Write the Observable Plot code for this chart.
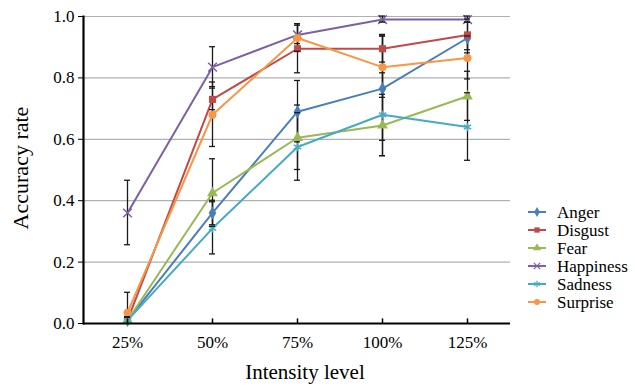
<!DOCTYPE html>
<html>
<head>
<meta charset="utf-8">
<script src="https://cdn.jsdelivr.net/npm/d3@7"></script>
<script src="https://cdn.jsdelivr.net/npm/@observablehq/plot@0.6"></script>
<style>
  html, body { margin: 0; padding: 0; background: #fff; }
  #chart svg { display: block; }
  #chart svg text { font-family: "Liberation Serif", "DejaVu Serif", serif; }
</style>
</head>
<body>
<div id="chart"></div>
<script>
const levels = ["25%", "50%", "75%", "100%", "125%"];
const emotions = ["Anger", "Disgust", "Fear", "Happiness", "Sadness", "Surprise"];
const yTicks = [0, 0.2, 0.4, 0.6, 0.8, 1.0];

const anger        = [0.01, 0.36, 0.69, 0.765, 0.93];
const angerErr     = [0.01, 0.04, 0.10, 0.17, 0.05];
const disgust      = [0.01, 0.73, 0.895, 0.895, 0.94];
const disgustErr   = [0.01, 0.035, 0.08, 0.045, 0.05];
const fear         = [0.01, 0.425, 0.605, 0.645, 0.74];
const fearErr      = [0.01, 0.11, 0.105, 0.10, 0.08];
const happiness    = [0.36, 0.835, 0.94, 0.99, 0.99];
const happinessErr = [0.105, 0.065, 0.03, 0.01, 0.01];
const sadness      = [0.01, 0.31, 0.575, 0.68, 0.64];
const sadnessErr   = [0.01, 0.085, 0.11, 0.135, 0.11];
const surprise     = [0.035, 0.68, 0.93, 0.835, 0.865];
const surpriseErr  = [0.065, 0.105, 0.045, 0.10, 0.07];

const colors  = ["#4A7EBB", "#BE4B48", "#98B954", "#7D60A0", "#46AAC5", "#F79646"];
const symbols = ["diamond", "square", "triangle", "times", "asterisk", "circle"];
const strokeOnly = new Set(["times", "asterisk"]);
const FONT = "'Liberation Serif', 'DejaVu Serif', serif";

const values = [anger, disgust, fear, happiness, sadness, surprise];
const errors = [angerErr, disgustErr, fearErr, happinessErr, sadnessErr, surpriseErr];

const series = emotions.map((name, i) => ({
  name, color: colors[i], symbol: symbols[i],
  data: levels.map((lv, j) => ({
    level: lv, value: values[i][j], err: errors[i][j],
    lo: Math.max(0, values[i][j] - errors[i][j]),
    hi: Math.min(1, values[i][j] + errors[i][j])
  }))
}));
const allPts = series.flatMap(s => s.data);

const marks = [
  Plot.gridY(yTicks.filter(t => t > 0), {stroke: "#b0b0b0", strokeOpacity: 1, strokeWidth: 1.2}),
  Plot.ruleX(allPts, {x: "level", y1: "lo", y2: "hi", stroke: "#1a1a1a", strokeWidth: 1.3})
];

for (const s of series) {
  const so = strokeOnly.has(s.symbol);
  marks.push(Plot.line(s.data, {x: "level", y: "value", stroke: s.color, strokeWidth: 2}));
  marks.push(Plot.dot(s.data, {
    x: "level", y: "value", symbol: s.symbol, r: 4,
    fill: so ? "none" : s.color, stroke: so ? s.color : "none", strokeWidth: 1.5
  }));
}

// axes
marks.push(Plot.ruleY([0], {stroke: "#000", strokeWidth: 2.2}));
marks.push(Plot.frame({anchor: "left", stroke: "#000", strokeWidth: 2.2}));
marks.push(Plot.axisY({ticks: yTicks, tickFormat: d3.format(".1f"), tickSize: 5, tickPadding: 4, label: null, fontSize: 17, fontFamily: FONT, color: "#000"}));
marks.push(Plot.axisX({tickSize: 0, tickPadding: 12, label: null, fontSize: 17, fontFamily: FONT, color: "#000"}));
marks.push(Plot.ruleX(levels, {x: d => d, y1: 0, y2: 0.015, stroke: "#000", strokeWidth: 1.5}));

const chart = Plot.plot({
  width: 635,
  height: 386,
  marginLeft: 83,
  marginRight: 125,
  marginTop: 16,
  marginBottom: 63,
  x: {type: "point", domain: levels, padding: 0.5},
  y: {domain: [0, 1]},
  style: {fontFamily: FONT, fontSize: "16px", color: "#000", background: "#fff"},
  marks
});

const svg = d3.select(chart);
const xs = chart.scale("x"), ys = chart.scale("y");

// error-bar caps
const capG = svg.append("g").attr("stroke", "#1a1a1a").attr("stroke-width", 1.3);
for (const p of allPts) {
  const cx = xs.apply(p.level);
  for (const v of [p.lo, p.hi]) {
    if (v <= 0.001) continue;
    capG.append("line").attr("x1", cx - 3).attr("x2", cx + 3)
      .attr("y1", ys.apply(v)).attr("y2", ys.apply(v));
  }
}

// axis titles
svg.append("text").text("Intensity level")
  .attr("x", 305).attr("y", 379).attr("text-anchor", "middle")
  .attr("font-family", FONT).attr("font-size", 21).attr("fill", "#000");
svg.append("text").text("Accuracy rate")
  .attr("transform", "translate(28,168) rotate(-90)").attr("text-anchor", "middle")
  .attr("font-family", FONT).attr("font-size", 22).attr("fill", "#000");

// legend
const symMap = {diamond: d3.symbolDiamond, square: d3.symbolSquare, triangle: d3.symbolTriangle,
  times: d3.symbolTimes, asterisk: d3.symbolAsterisk, circle: d3.symbolCircle};
const lg = svg.append("g").attr("font-size", 17).attr("font-family", FONT).attr("fill", "#000").attr("text-anchor", "start");
series.forEach((s, i) => {
  const cy = 212 + i * 18;
  const g = lg.append("g");
  g.append("line").attr("x1", 528).attr("x2", 546).attr("y1", cy).attr("y2", cy)
    .attr("stroke", s.color).attr("stroke-width", 2);
  const so = strokeOnly.has(s.symbol);
  const sym = d3.symbol(symMap[s.symbol], 28)();
  g.append("path").attr("d", sym).attr("transform", `translate(537,${cy})`)
    .attr("fill", so ? "none" : s.color)
    .attr("stroke", so ? s.color : "none").attr("stroke-width", 1.2);
  g.append("text").text(s.name).attr("x", 557).attr("y", cy).attr("dy", "0.35em");
});

document.getElementById("chart").appendChild(chart);
</script>
</body>
</html>
